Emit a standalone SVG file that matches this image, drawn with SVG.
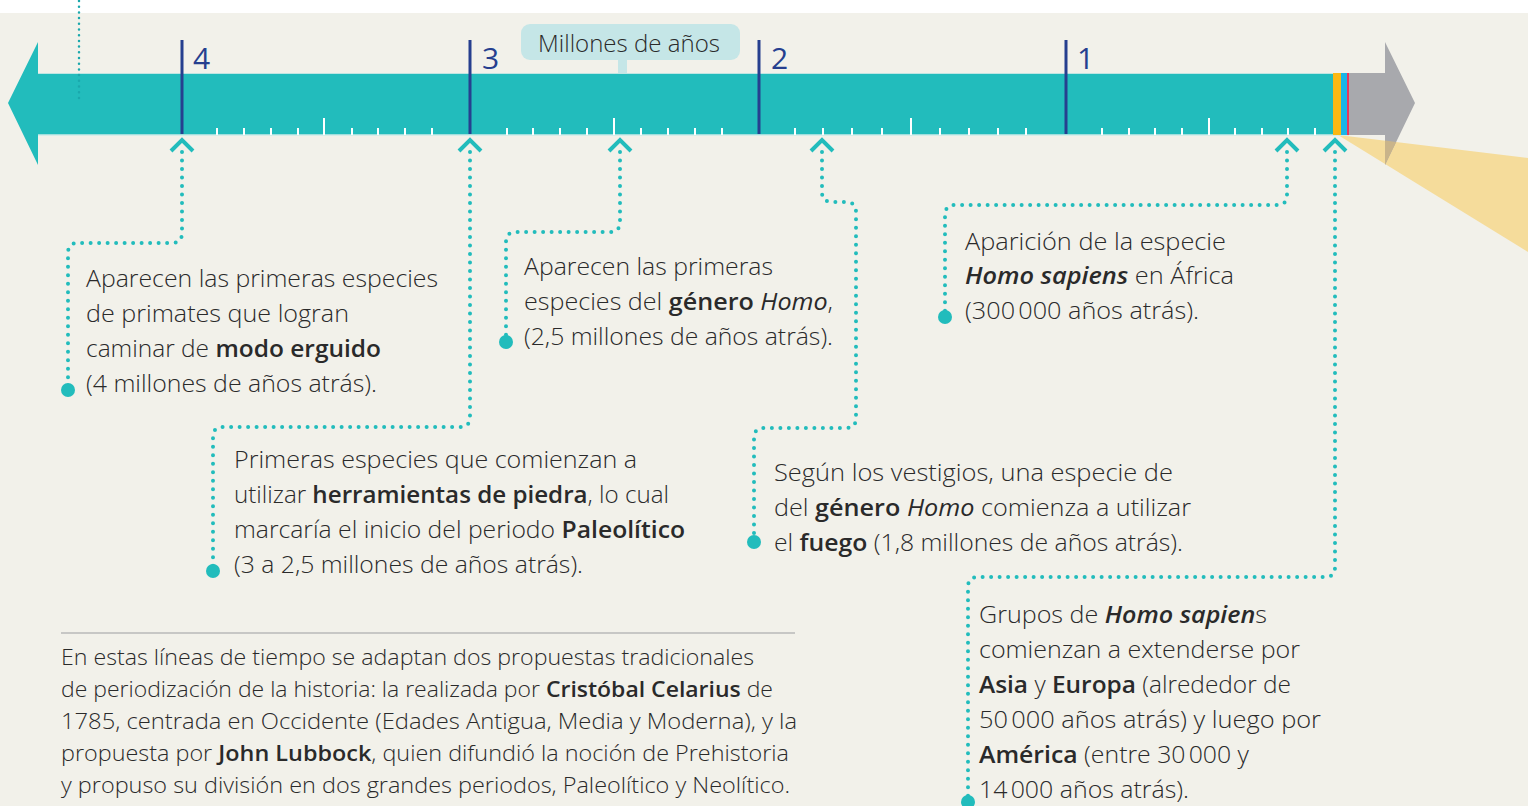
<svg xmlns="http://www.w3.org/2000/svg" width="1528" height="806" viewBox="0 0 1528 806">
<defs>
<style>
.t{font-family:"Open Sans","Liberation Sans",sans-serif;font-weight:300;font-size:24px;fill:#2a2a2a}
.b{font-weight:600}
.i{font-style:italic;font-weight:400}
.bi{font-style:italic;font-weight:600}
.n{font-family:"Open Sans","Liberation Sans",sans-serif;font-size:30px;fill:#263f8f}
.p{font-family:"Liberation Sans Narrow","Open Sans","Liberation Sans",sans-serif;font-weight:300;font-size:22px;fill:#2a2a2a}
.pb{font-weight:600}
.dot{fill:none;stroke:#22bcbc;stroke-width:4;stroke-linecap:round;stroke-linejoin:round;stroke-dasharray:0 8.5}
.chev{fill:none;stroke:#22bcbc;stroke-width:4}
.end{fill:#22bcbc}
.maj{stroke:#263f8f;stroke-width:3}
.min{stroke:#ffffff;stroke-width:2}
</style>
</defs>
<rect x="0" y="0" width="1528" height="806" fill="#f2f1ea"/>
<rect x="0" y="0" width="1528" height="13" fill="#ffffff"/>

<g id="timeline">
<polygon points="1338,135 1528,158 1528,252" fill="#f5dc9b"/>
<polygon points="8,103 38,42 38,73 1333,73 1333,135 38,135 38,165" fill="#22bcbc"/>
<line x1="38" y1="73.5" x2="1349" y2="73.5" stroke="#bfe5e3" stroke-width="1"/>
<line x1="38" y1="135" x2="1349" y2="135" stroke="#cdebe9" stroke-width="1.5"/>
<rect x="1333" y="73" width="8" height="62" fill="#fbb813"/>
<rect x="1341" y="73" width="6" height="62" fill="#19b5e8"/>
<rect x="1347" y="73" width="2" height="62" fill="#e8365d"/>
<polygon points="1349,73 1385,73 1385,42 1415,103 1385,165 1385,135 1349,135" fill="#a8a9ad"/>
<polygon points="1385,140.6 1396.1,142 1385,165" fill="#c9b48a"/>
<line x1="79" y1="1" x2="79" y2="102" stroke="#1aa8ac" stroke-width="2.5" stroke-linecap="round" stroke-dasharray="0 5.7"/>
<g id="minor-ticks">
<path class="min" d="M217,128V135M244,128V135M271,128V135M298,128V135M324,118V135M352,128V135M378,128V135M405,128V135M432,128V135M507,128V135M533,128V135M560,128V135M587,128V135M614,118V135M641,128V135M668,128V135M695,128V135M722,128V135M795,128V135M823,128V135M852,128V135M882,128V135M911,118V135M940,128V135M969,128V135M998,128V135M1026,128V135M1102,128V135M1129,128V135M1155,128V135M1182,128V135M1209,118V135M1235,128V135M1262,128V135M1288,128V135M1315,128V135"/>
</g>
<g id="major-ticks">
<line class="maj" x1="182" y1="40" x2="182" y2="134"/>
<line class="maj" x1="470" y1="40" x2="470" y2="134"/>
<line class="maj" x1="759" y1="40" x2="759" y2="134"/>
<line class="maj" x1="1066" y1="40" x2="1066" y2="134"/>
<text class="n" x="193" y="69">4</text>
<text class="n" x="482" y="69">3</text>
<text class="n" x="771" y="69">2</text>
<text class="n" x="1077" y="69">1</text>
</g>
</g>

<g id="label-millones">
<rect x="618" y="58" width="9" height="15" fill="#c5e6e7"/>
<rect x="521" y="24" width="219" height="36" rx="9" fill="#c5e6e7"/>
<text class="t" x="538" y="52" style="font-size:23px" textLength="182" lengthAdjust="spacingAndGlyphs">Millones de años</text>
</g>

<g id="connectors">
<path class="dot" d="M182,152 V233 Q182,243 172,243 H78 Q68,243 68,253 V390"/>
<path class="dot" d="M470,152 V417 Q470,427 460,427 H223 Q213,427 213,437 V571"/>
<path class="dot" d="M620,152 V222 Q620,232 610,232 H516 Q506,232 506,242 V342"/>
<path class="dot" d="M822,152 V192 Q822,202 832,202 H846 Q856,202 856,212 V418 Q856,428 846,428 H764 Q754,428 754,438 V542"/>
<path class="dot" d="M1287,152 V195 Q1287,205 1277,205 H955 Q945,205 945,215 V317"/>
<path class="dot" d="M1335,152 V567 Q1335,577 1325,577 H978 Q968,577 968,587 V802"/>
<polyline class="chev" points="171,151 182,140 193,151"/>
<polyline class="chev" points="459,151 470,140 481,151"/>
<polyline class="chev" points="609,151 620,140 631,151"/>
<polyline class="chev" points="811,151 822,140 833,151"/>
<polyline class="chev" points="1276,151 1287,140 1298,151"/>
<polyline class="chev" points="1324,151 1335,140 1346,151"/>
<circle class="end" cx="68" cy="390" r="7"/>
<circle class="end" cx="213" cy="571" r="7"/>
<circle class="end" cx="506" cy="342" r="7"/>
<circle class="end" cx="754" cy="542" r="7"/>
<circle class="end" cx="945" cy="317" r="7"/>
<circle class="end" cx="968" cy="802" r="7"/>
</g>

<g id="node-4ma">
<text class="t" x="86" y="287" textLength="352" lengthAdjust="spacingAndGlyphs">Aparecen las primeras especies</text>
<text class="t" x="86" y="322" textLength="263" lengthAdjust="spacingAndGlyphs">de primates que logran</text>
<text class="t" x="86" y="357" textLength="295" lengthAdjust="spacingAndGlyphs">caminar de <tspan class="b">modo erguido</tspan></text>
<text class="t" x="86" y="392" textLength="291" lengthAdjust="spacingAndGlyphs">(4 millones de años atrás).</text>
</g>

<g id="node-3ma">
<text class="t" x="234" y="468" textLength="403" lengthAdjust="spacingAndGlyphs">Primeras especies que comienzan a</text>
<text class="t" x="234" y="503" textLength="435" lengthAdjust="spacingAndGlyphs">utilizar <tspan class="b">herramientas de piedra</tspan>, lo cual</text>
<text class="t" x="234" y="538" textLength="451" lengthAdjust="spacingAndGlyphs">marcaría el inicio del periodo <tspan class="b">Paleolítico</tspan></text>
<text class="t" x="234" y="573" textLength="349" lengthAdjust="spacingAndGlyphs">(3 a 2,5 millones de años atrás).</text>
</g>

<g id="node-2-5ma">
<text class="t" x="524" y="275" textLength="249" lengthAdjust="spacingAndGlyphs">Aparecen las primeras</text>
<text class="t" x="524" y="310" textLength="309" lengthAdjust="spacingAndGlyphs">especies del <tspan class="b">género</tspan> <tspan class="i">Homo</tspan>,</text>
<text class="t" x="524" y="345" textLength="309" lengthAdjust="spacingAndGlyphs">(2,5 millones de años atrás).</text>
</g>

<g id="node-1-8ma">
<text class="t" x="774" y="481" textLength="399" lengthAdjust="spacingAndGlyphs">Según los vestigios, una especie de</text>
<text class="t" x="774" y="516" textLength="417" lengthAdjust="spacingAndGlyphs">del <tspan class="b">género</tspan> <tspan class="i">Homo</tspan> comienza a utilizar</text>
<text class="t" x="774" y="551" textLength="409" lengthAdjust="spacingAndGlyphs">el <tspan class="b">fuego</tspan> (1,8 millones de años atrás).</text>
</g>

<g id="node-300ka">
<text class="t" x="965" y="250" textLength="261" lengthAdjust="spacingAndGlyphs">Aparición de la especie</text>
<text class="t" x="965" y="284" textLength="269" lengthAdjust="spacingAndGlyphs"><tspan class="bi">Homo sapiens</tspan> en África</text>
<text class="t" x="965" y="319" textLength="234" lengthAdjust="spacingAndGlyphs">(300&#8239;000 años atrás).</text>
</g>

<g id="node-50ka">
<text class="t" x="979" y="623" textLength="288" lengthAdjust="spacingAndGlyphs">Grupos de <tspan class="bi">Homo sapien</tspan>s</text>
<text class="t" x="979" y="658" textLength="321" lengthAdjust="spacingAndGlyphs">comienzan a extenderse por</text>
<text class="t" x="979" y="693" textLength="312" lengthAdjust="spacingAndGlyphs"><tspan class="b">Asia</tspan> y <tspan class="b">Europa</tspan> (alrededor de</text>
<text class="t" x="979" y="728" textLength="342" lengthAdjust="spacingAndGlyphs">50&#8239;000 años atrás) y luego por</text>
<text class="t" x="979" y="763" textLength="270" lengthAdjust="spacingAndGlyphs"><tspan class="b">América</tspan> (entre 30&#8239;000 y</text>
<text class="t" x="979" y="798" textLength="210" lengthAdjust="spacingAndGlyphs">14&#8239;000 años atrás).</text>
</g>

<g id="note">
<line x1="61" y1="633" x2="795" y2="633" stroke="#b9b9b9" stroke-width="1.5"/>
<text class="p" x="61" y="665" textLength="693" lengthAdjust="spacingAndGlyphs">En estas líneas de tiempo se adaptan dos propuestas tradicionales</text>
<text class="p" x="61" y="697" textLength="712" lengthAdjust="spacingAndGlyphs">de periodización de la historia: la realizada por <tspan class="pb">Cristóbal Celarius</tspan> de</text>
<text class="p" x="61" y="729" textLength="736" lengthAdjust="spacingAndGlyphs">1785, centrada en Occidente (Edades Antigua, Media y Moderna), y la</text>
<text class="p" x="61" y="761" textLength="728" lengthAdjust="spacingAndGlyphs">propuesta por <tspan class="pb">John Lubbock</tspan>, quien difundió la noción de Prehistoria</text>
<text class="p" x="61" y="793" textLength="729" lengthAdjust="spacingAndGlyphs">y propuso su división en dos grandes periodos, Paleolítico y Neolítico.</text>
</g>
</svg>
